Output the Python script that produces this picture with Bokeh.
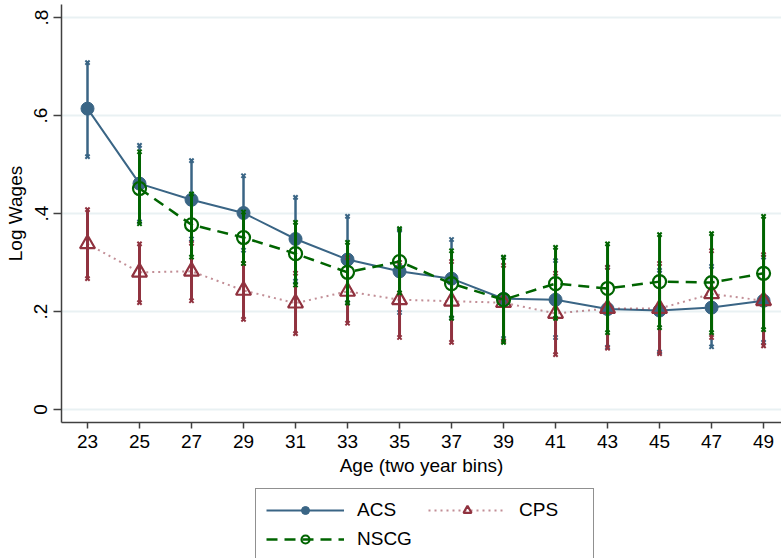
from bokeh.plotting import figure
from bokeh.layouts import column
from bokeh.models import ColumnDataSource, Legend, LegendItem, FixedTicker, Range1d
from bokeh.embed import file_html
from bokeh.resources import INLINE

# ---- data ----
ages = [23, 25, 27, 29, 31, 33, 35, 37, 39, 41, 43, 45, 47, 49]
acs = [0.614, 0.461, 0.428, 0.401, 0.348, 0.306, 0.282, 0.267, 0.226, 0.224, 0.205, 0.202, 0.208, 0.222]
acs_hi = [0.708, 0.539, 0.508, 0.477, 0.433, 0.394, 0.366, 0.347, 0.310, 0.304, 0.290, 0.284, 0.292, 0.311]
acs_lo = [0.516, 0.383, 0.348, 0.325, 0.262, 0.218, 0.198, 0.187, 0.145, 0.147, 0.127, 0.117, 0.128, 0.137]

cps = [0.338, 0.280, 0.282, 0.243, 0.217, 0.241, 0.224, 0.221, 0.218, 0.196, 0.206, 0.206, 0.236, 0.222]
cps_hi = [0.408, 0.338, 0.339, 0.298, 0.278, 0.310, 0.300, 0.302, 0.294, 0.278, 0.290, 0.298, 0.324, 0.316]
cps_lo = [0.267, 0.218, 0.222, 0.184, 0.155, 0.176, 0.147, 0.137, 0.140, 0.112, 0.125, 0.114, 0.147, 0.130]

nscg_ages = [25, 27, 29, 31, 33, 35, 37, 39, 41, 43, 45, 47, 49]
nscg = [0.451, 0.377, 0.351, 0.318, 0.280, 0.302, 0.257, 0.224, 0.257, 0.247, 0.261, 0.259, 0.278]
nscg_hi = [0.526, 0.440, 0.403, 0.382, 0.341, 0.369, 0.324, 0.311, 0.331, 0.338, 0.357, 0.359, 0.394]
nscg_lo = [0.379, 0.311, 0.298, 0.254, 0.217, 0.238, 0.186, 0.137, 0.186, 0.157, 0.167, 0.157, 0.163]

series_names = ["ACS", "CPS", "NSCG"]
y_ticks = [0, 0.2, 0.4, 0.6, 0.8]
y_tick_labels = ["0", ".2", ".4", ".6", ".8"]

BLUE = "#3a6585"
RED = "#90323f"
GREEN = "#006400"
FONT = "Liberation Sans"

p = figure(frame_width=720, frame_height=418, output_backend="svg", toolbar_location=None,
           x_range=Range1d(22, 49.69), y_range=Range1d(-0.0265, 0.8265),
           min_border_left=61, min_border_right=0, min_border_top=4, min_border_bottom=64)
p.outline_line_color = None
p.background_fill_color = "white"
p.border_fill_color = "white"

# grid
p.xgrid.grid_line_color = None
p.ygrid.grid_line_color = "#e9f1f3"
p.ygrid.grid_line_width = 2
p.ygrid.ticker = FixedTicker(ticks=y_ticks)

# axes
p.xaxis.ticker = FixedTicker(ticks=ages)
p.yaxis.ticker = FixedTicker(ticks=y_ticks)
p.yaxis.major_label_overrides = {t: l for t, l in zip(y_ticks, y_tick_labels)}
p.yaxis.major_label_orientation = "vertical"
for ax in (p.xaxis[0], p.yaxis[0]):
    ax.axis_line_color = "#404040"
    ax.axis_line_width = 1.5
    ax.major_tick_line_color = "#404040"
    ax.major_tick_line_width = 1.5
    ax.major_tick_in = 0
    ax.minor_tick_line_color = None
    ax.major_label_text_font = FONT
    ax.major_label_text_font_size = "19px"
    ax.major_label_text_color = "black"
    ax.axis_label_text_font = FONT
    ax.axis_label_text_font_size = "19px"
    ax.axis_label_text_font_style = "normal"
    ax.axis_label_text_color = "black"
p.xaxis.major_tick_out = 6
p.yaxis.major_tick_out = 8
p.xaxis.axis_label = "Age (two year bins)"
p.yaxis.axis_label = "Log Wages"
p.xaxis.major_label_standoff = 6
p.xaxis.axis_label_standoff = 4
p.yaxis.major_label_standoff = 6
p.yaxis.axis_label_standoff = 6

src_acs = ColumnDataSource(dict(x=ages, y=acs, lo=acs_lo, hi=acs_hi))
src_cps = ColumnDataSource(dict(x=ages, y=cps, lo=cps_lo, hi=cps_hi))
src_nscg = ColumnDataSource(dict(x=nscg_ages, y=nscg, lo=nscg_lo, hi=nscg_hi))

# styles shared between the plot and its legend
acs_line_kw = dict(line_color=BLUE, line_width=2)
acs_pt_kw = dict(marker="circle", size=13, fill_color=BLUE, line_color=BLUE)
cps_line_kw = dict(line_color=RED, line_alpha=0.55, line_width=2, line_dash="2 4")
cps_pt_kw = dict(marker="triangle", size=15, fill_color=None, line_color=RED, line_width=2.2)
nscg_line_kw = dict(line_color=GREEN, line_width=2.5, line_dash="11 7")
nscg_pt_kw = dict(marker="circle", size=13, fill_color=None, line_color=GREEN, line_width=2.2)

# ACS
p.segment(x0="x", y0="lo", x1="x", y1="hi", source=src_acs, line_color=BLUE, line_width=2.5)
p.scatter("x", "lo", source=src_acs, marker="x", size=6, line_color=BLUE, line_width=2)
p.scatter("x", "hi", source=src_acs, marker="x", size=6, line_color=BLUE, line_width=2)
p.line("x", "y", source=src_acs, **acs_line_kw)
p.scatter("x", "y", source=src_acs, **acs_pt_kw)

# CPS
p.segment(x0="x", y0="lo", x1="x", y1="hi", source=src_cps, line_color=RED, line_width=3)
p.scatter("x", "lo", source=src_cps, marker="x", size=6, line_color=RED, line_width=2)
p.scatter("x", "hi", source=src_cps, marker="x", size=6, line_color=RED, line_width=2)
p.line("x", "y", source=src_cps, **cps_line_kw)
p.scatter("x", "y", source=src_cps, **cps_pt_kw)

# NSCG
p.segment(x0="x", y0="lo", x1="x", y1="hi", source=src_nscg, line_color=GREEN, line_width=3)
p.scatter("x", "lo", source=src_nscg, marker="x", size=6, line_color=GREEN, line_width=2)
p.scatter("x", "hi", source=src_nscg, marker="x", size=6, line_color=GREEN, line_width=2)
p.line("x", "y", source=src_nscg, **nscg_line_kw)
p.scatter("x", "y", source=src_nscg, **nscg_pt_kw)

# ---- legend strip below the plot (its glyphs reuse the data, which lies outside this strip's ranges) ----
lg = figure(width=781, height=72, output_backend="svg", toolbar_location=None,
            x_range=Range1d(0, 1), y_range=Range1d(0, 1),
            x_axis_location=None, y_axis_location=None, min_border=0)
lg.outline_line_color = None
lg.grid.visible = False
lg.border_fill_color = "white"
r_acs = [lg.line("x", "y", source=src_acs, **acs_line_kw), lg.scatter("x", "y", source=src_acs, **acs_pt_kw)]
r_cps = [lg.line("x", "y", source=src_cps, **cps_line_kw), lg.scatter("x", "y", source=src_cps, **cps_pt_kw)]
r_nscg = [lg.line("x", "y", source=src_nscg, **nscg_line_kw), lg.scatter("x", "y", source=src_nscg, **nscg_pt_kw)]

legend = Legend(items=[
    LegendItem(label=series_names[0], renderers=r_acs),
    LegendItem(label=series_names[1], renderers=r_cps),
    LegendItem(label=series_names[2], renderers=r_nscg),
], orientation="horizontal", ncols=2, location=(194, -3))
legend.label_text_font = FONT
legend.label_text_font_size = "19px"
legend.label_text_color = "black"
legend.glyph_width = 78
legend.glyph_height = 20
legend.label_standoff = 13
legend.label_width = 64
legend.spacing = 7
legend.padding = 10
legend.margin = 0
legend.border_line_color = "#222222"
legend.border_line_width = 1.2
legend.background_fill_color = "white"
lg.add_layout(legend, "center")

layout = column(p, lg, spacing=0)
open("out.html", "w").write(file_html(layout, INLINE))
